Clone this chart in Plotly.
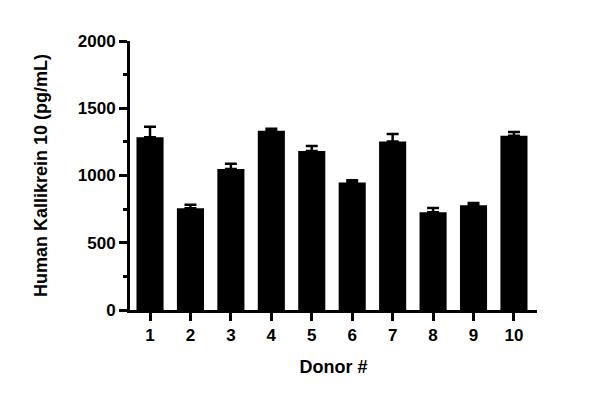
import plotly.graph_objects as go

donors = ["1", "2", "3", "4", "5", "6", "7", "8", "9", "10"]
values = [1285, 756, 1048, 1333, 1182, 948, 1252, 726, 778, 1296]
errors = [78, 27, 40, 15, 37, 17, 57, 32, 17, 28]
y_ticks = [0, 500, 1000, 1500, 2000]

font_family = "Arial, Liberation Sans, sans-serif"

fig = go.Figure(go.Bar(
    x=list(range(1, 11)),
    y=values,
    width=0.67,
    marker=dict(color="black", line=dict(width=0)),
    error_y=dict(type="data", array=errors, arrayminus=[0] * len(errors),
                 symmetric=False, color="black", thickness=2.5, width=6),
))

fig.update_layout(
    width=600, height=399,
    margin=dict(l=130, r=63, t=41, b=89),
    plot_bgcolor="white", paper_bgcolor="white",
    showlegend=False,
    font=dict(family=font_family, color="black", size=16),
    xaxis=dict(
        range=[0.505, 10.57],
        tickmode="array", tickvals=list(range(1, 11)), ticktext=donors,
        showline=True, linecolor="black", linewidth=3,
        ticks="outside", ticklen=8, tickwidth=3, tickcolor="black",
        showgrid=False, zeroline=False,
        tickfont=dict(size=17, family=font_family, weight="bold"),
        title=dict(text="Donor #", font=dict(size=18, weight="bold"), standoff=16),
    ),
    yaxis=dict(
        range=[0, 2000],
        tickmode="array", tickvals=y_ticks, ticktext=[str(v) for v in y_ticks],
        showline=True, linecolor="black", linewidth=3,
        ticks="outside", ticklen=8, tickwidth=3, tickcolor="black",
        minor=dict(ticks="outside", ticklen=4, tickwidth=3, tickcolor="black",
                   dtick=250, tick0=0, showgrid=False),
        showgrid=False, zeroline=False,
        tickfont=dict(size=17, family=font_family, weight="bold"),
        title=dict(text="Human Kallikrein 10 (pg/mL)", font=dict(size=18, weight="bold"), standoff=26),
    ),
)

fig.write_html("out.html")
